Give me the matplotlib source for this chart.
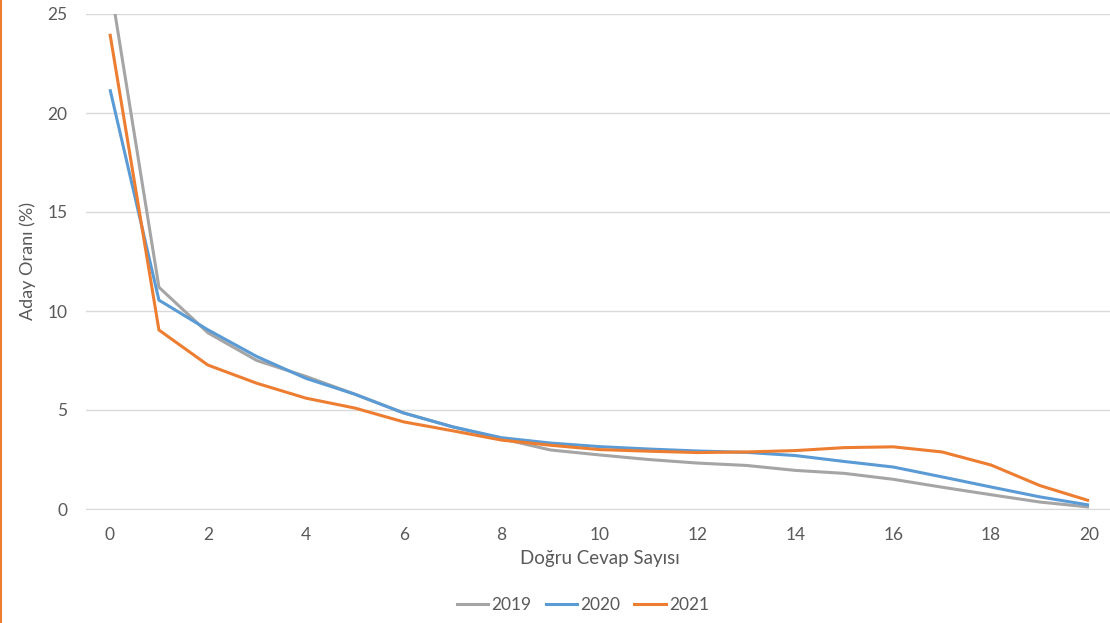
import matplotlib
matplotlib.use("Agg")
from matplotlib import pyplot as plt
from matplotlib.lines import Line2D

# data
dogru_cevap = list(range(21))
oran_2019 = [26.6, 11.2, 8.9, 7.5, 6.7, 5.8, 4.85, 4.15, 3.55, 2.98, 2.73, 2.5, 2.32,
             2.2, 1.95, 1.8, 1.5, 1.1, 0.72, 0.35, 0.1]
oran_2020 = [21.2, 10.55, 9.05, 7.7, 6.6, 5.8, 4.85, 4.15, 3.6, 3.33, 3.15, 3.03, 2.93,
             2.86, 2.7, 2.4, 2.12, 1.62, 1.11, 0.61, 0.2]
oran_2021 = [24.0, 9.04, 7.27, 6.35, 5.6, 5.1, 4.4, 3.95, 3.48, 3.22, 3.0, 2.92, 2.85,
             2.88, 2.95, 3.1, 3.14, 2.88, 2.22, 1.18, 0.42]
years = ["2019", "2020", "2021"]
colors = ["#A5A5A5", "#5B9BD5", "#ED7D31"]
y_ticks = [0, 5, 10, 15, 20, 25]
x_ticks = list(range(0, 21, 2))

plt.rcParams['font.family'] = ['Lato', 'DejaVu Sans']
text_color = "#595959"

fig = plt.figure(figsize=(11.10, 6.23), dpi=100)
ax = fig.add_axes([85.5 / 1110, 114 / 623, 1028 / 1110, 495 / 623])

for series, label, color in zip([oran_2019, oran_2020, oran_2021], years, colors):
    ax.plot(dogru_cevap, series, color=color, lw=2.2, label=label,
            solid_capstyle="butt", solid_joinstyle="round")

ax.set_xlim(-0.5, 20.5)
ax.set_ylim(0, 25)
ax.set_yticks(y_ticks)
ax.set_xticks(x_ticks)
ax.grid(axis="y", color="#D9D9D9", lw=1)
ax.set_axisbelow(True)
for side in ["top", "right", "left"]:
    ax.spines[side].set_visible(False)
ax.spines["bottom"].set_color("#D9D9D9")
ax.tick_params(length=0, labelsize=12.5, colors=text_color)
ax.tick_params(axis="y", pad=13)
ax.tick_params(axis="x", pad=13)

ax.set_xlabel("Doğru Cevap Sayısı", fontsize=13.5, color=text_color, labelpad=5)
ax.set_ylabel("Aday Oranı (%)", fontsize=13, color=text_color, labelpad=8)

handles = [Line2D([], [], color=c, lw=2.2) for c in colors]
fig.legend(handles, years, loc="center", bbox_to_anchor=(583 / 1110, 1 - 605 / 623),
           ncol=3, frameon=False, fontsize=12.5, labelcolor=text_color,
           handlelength=1.8, handletextpad=0.2, columnspacing=0.8)

# orange border at the left edge
fig.add_artist(Line2D([0.5 / 1110, 0.5 / 1110], [0, 1], color="#ED7D31", lw=1.5,
                      transform=fig.transFigure))

fig.savefig("out.png", dpi=100)
